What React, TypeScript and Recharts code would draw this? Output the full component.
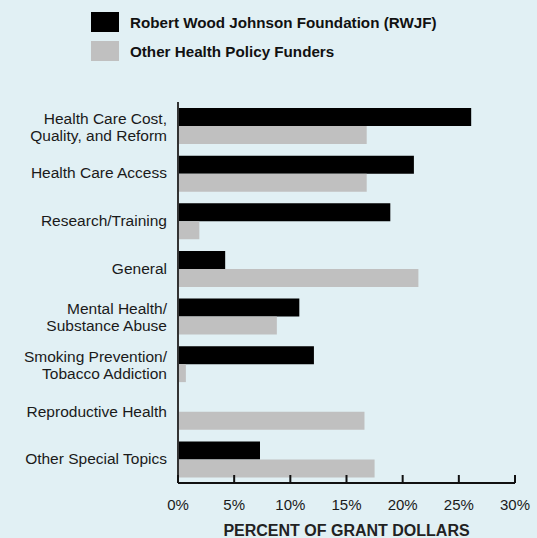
import React from 'react';
import { BarChart, Bar, XAxis, YAxis } from 'recharts';

const categories = [
  'Health Care Cost,\nQuality, and Reform',
  'Health Care Access',
  'Research/Training',
  'General',
  'Mental Health/\nSubstance Abuse',
  'Smoking Prevention/\nTobacco Addiction',
  'Reproductive Health',
  'Other Special Topics',
];
const rwjf = [26.1, 21.0, 18.9, 4.2, 10.8, 12.1, 0, 7.3];
const otherFunders = [16.8, 16.8, 1.9, 21.4, 8.8, 0.7, 16.6, 17.5];
const xTicks = [0, 5, 10, 15, 20, 25, 30];

const data = categories.map((name, i) => ({ name, rwjf: rwjf[i], other: otherFunders[i] }));

const FONT = '"Liberation Sans", Arial, Helvetica, sans-serif';
const BG = '#e1f0f4';

const YTick = ({ x, y, payload }: any) => {
  const lines = String(payload.value).split('\n');
  return (
    <text x={x} y={y} textAnchor="end" fontFamily={FONT} fontSize={15.5} fill="#1a1a1a">
      {lines.length === 1 ? (
        <tspan x={x} dy={5}>{lines[0]}</tspan>
      ) : (
        lines.map((l, i) => (
          <tspan key={i} x={x} dy={i === 0 ? -2 : 17}>{l}</tspan>
        ))
      )}
    </text>
  );
};

const XTick = ({ x, y, payload }: any) => {
  const axisY = y - 10;
  return (
    <g>
      <line x1={x} x2={x} y1={axisY} y2={axisY - 8} stroke="#111" strokeWidth={2} />
      <text x={x} y={y + 17} textAnchor="middle" fontFamily={FONT} fontSize={15} fill="#1a1a1a">
        {payload.value}%
      </text>
    </g>
  );
};

export default function App() {
  return (
    <div style={{ position: 'absolute', left: 0, top: 0, width: 537, height: 538, background: BG, overflow: 'hidden' }}>
      <div style={{ position: 'absolute', left: 91, top: 12, fontFamily: FONT, fontWeight: 'bold', fontSize: 15.2, color: '#111' }}>
        <div style={{ display: 'flex', alignItems: 'center', height: 20 }}>
          <span style={{ width: 28, height: 20, background: '#000', marginRight: 11 }} />
          Robert Wood Johnson Foundation (RWJF)
        </div>
        <div style={{ display: 'flex', alignItems: 'center', height: 20, marginTop: 9 }}>
          <span style={{ width: 28, height: 20, background: '#c0c0c0', marginRight: 11 }} />
          Other Health Policy Funders
        </div>
      </div>
      <BarChart
        width={537}
        height={538}
        data={data}
        layout="vertical"
        margin={{ top: 102, right: 22, left: 0, bottom: 0 }}
        barGap={0}
        barSize={18}
      >
        <XAxis
          type="number"
          domain={[0, 30]}
          ticks={xTicks}
          interval={0}
          height={55}
          tickLine={false}
          tickSize={0}
          tickMargin={10}
          axisLine={{ stroke: '#111', strokeWidth: 2 }}
          tick={<XTick />}
          label={{
            value: 'PERCENT OF GRANT DOLLARS',
            position: 'insideBottom',
            offset: 2,
            style: { fontFamily: FONT, fontWeight: 'bold', fontSize: 16, fill: '#222' },
          }}
        />
        <YAxis
          type="category"
          dataKey="name"
          width={178}
          tickLine={false}
          tickSize={0}
          tickMargin={11}
          axisLine={{ stroke: '#333', strokeWidth: 2 }}
          tick={<YTick />}
          interval={0}
        />
        <Bar dataKey="rwjf" fill="#000000" isAnimationActive={false} />
        <Bar dataKey="other" fill="#c0c0c0" isAnimationActive={false} />
      </BarChart>
    </div>
  );
}
